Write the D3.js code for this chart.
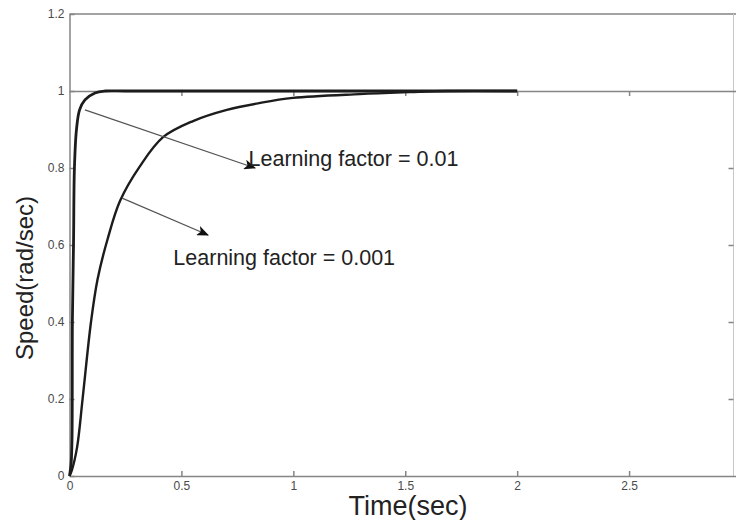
<!DOCTYPE html>
<html>
<head>
<meta charset="utf-8">
<script src="https://cdn.jsdelivr.net/npm/d3@7"></script>
<style>
  body { margin: 0; background: #fff; }
  svg { display: block; font-family: "Liberation Sans", Arial, sans-serif; }
  .tick text { fill: #4a4a4a; font-size: 12px; }
  .domain, .tick line { stroke: #858585; stroke-width: 1.5px; }
</style>
</head>
<body>
<svg id="chart" width="736" height="520"></svg>
<script>
// response for learning factor = 0.01
const timeA  = [0, 0.007, 0.011, 0.013, 0.018, 0.022, 0.031, 0.045, 0.069, 0.114, 0.159, 0.25, 0.5, 1, 1.5, 2]
const speedA = [0, 0.03, 0.09, 0.405, 0.605, 0.80, 0.899, 0.951, 0.977, 0.995, 1.0, 1, 1, 1, 1, 1]

// response for learning factor = 0.001
const timeB  = [0, 0.011, 0.034, 0.059, 0.096, 0.125, 0.17, 0.226, 0.315, 0.418, 0.552, 0.703, 0.851, 0.998, 1.297, 1.52, 1.686, 2]
const speedB = [0, 0.016, 0.075, 0.203, 0.40, 0.51, 0.615, 0.715, 0.805, 0.880, 0.922, 0.951, 0.969, 0.982, 0.992, 0.997, 1.0, 1.0]

const xTicks = [0, 0.5, 1, 1.5, 2, 2.5]
const yTicks = [0, 0.2, 0.4, 0.6, 0.8, 1, 1.2]

// annotations in data units: arrow start, arrow end, label anchor
const notes = [
  { text: "Learning factor = 0.01",  from: [0.069, 0.951], to: [0.829, 0.800], at: [0.800, 0.805] },
  { text: "Learning factor = 0.001", from: [0.235, 0.722], to: [0.619, 0.626], at: [0.464, 0.548] }
]

let svg = d3.select("#chart")
let W = 736

let x = d3.scaleLinear().domain([0, 3]).range([69.5, 741])
let y = d3.scaleLinear().domain([0, 1.2]).range([476, 14])

// frame lines (top border and right edge)
svg.append("line")
  .attr("x1", x(0)).attr("x2", W)
  .attr("y1", y(1.2)).attr("y2", y(1.2))
  .attr("stroke", "#858585").attr("stroke-width", 1.5)
svg.append("line")
  .attr("x1", W - 2.5).attr("x2", W - 2.5)
  .attr("y1", y(1.2)).attr("y2", y(0))
  .attr("stroke", "#c8c8c8").attr("stroke-width", 1)

// bottom axis, ticks pointing inward
svg.append("g")
  .attr("transform", `translate(0,${y(0)})`)
  .call(d3.axisBottom(x).tickValues(xTicks).tickSizeInner(-5).tickSizeOuter(0).tickPadding(5)
    .tickFormat(d => d3.format("")(d)))

// line at speed = 1 with ticks pointing down
svg.append("g")
  .attr("transform", `translate(0,${y(1)})`)
  .call(d3.axisTop(x).tickValues(xTicks.slice(1)).tickSizeInner(-5).tickSizeOuter(0).tickFormat(""))

// left axis
svg.append("g")
  .attr("transform", `translate(${x(0)},0)`)
  .call(d3.axisLeft(y).tickValues(yTicks).tickSizeInner(-5).tickSizeOuter(0).tickPadding(5)
    .tickFormat(d => d3.format("")(d)))

// right side ticks
svg.append("g")
  .attr("transform", `translate(${W - 2.5},0)`)
  .call(d3.axisRight(y).tickValues(yTicks.slice(1, 5)).tickSizeInner(-5).tickSizeOuter(0).tickFormat(""))
  .select(".domain").remove()

// the two responses
let line = d3.line()
  .x(d => x(d[0]))
  .y(d => y(d[1]))
  .curve(d3.curveCatmullRom.alpha(0.5))

svg.append("path")
  .datum(d3.zip(timeB, speedB))
  .attr("d", line)
  .attr("fill", "none")
  .attr("stroke", "#1c1c1c")
  .attr("stroke-width", 2.4)

svg.append("path")
  .datum(d3.zip(timeA, speedA))
  .attr("d", line)
  .attr("fill", "none")
  .attr("stroke", "#1c1c1c")
  .attr("stroke-width", 2.8)

// arrow head
svg.append("defs").append("marker")
  .attr("id", "head")
  .attr("viewBox", "0 0 12 10")
  .attr("refX", 11).attr("refY", 5)
  .attr("markerWidth", 12).attr("markerHeight", 10)
  .attr("markerUnits", "userSpaceOnUse")
  .attr("orient", "auto")
  .append("path")
  .attr("d", "M0,0 L12,5 L0,10 L3,5 Z")
  .attr("fill", "#111")

// annotation arrows and labels
svg.selectAll(".arrow")
  .data(notes)
  .enter()
  .append("line")
  .attr("class", "arrow")
  .attr("x1", d => x(d.from[0])).attr("y1", d => y(d.from[1]))
  .attr("x2", d => x(d.to[0])).attr("y2", d => y(d.to[1]))
  .attr("stroke", "#555")
  .attr("stroke-width", 1.3)
  .attr("marker-end", "url(#head)")

svg.selectAll(".note")
  .data(notes)
  .enter()
  .append("text")
  .attr("class", "note")
  .attr("x", d => x(d.at[0]))
  .attr("y", d => y(d.at[1]))
  .style("font-size", "21.5px")
  .style("fill", "#222")
  .text(d => d.text)

// axis titles
svg.append("text")
  .attr("x", 408)
  .attr("y", 515)
  .style("text-anchor", "middle")
  .style("font-size", "27px")
  .style("fill", "#222")
  .text("Time(sec)")

svg.append("text")
  .attr("transform", "translate(33,278) rotate(-90)")
  .style("text-anchor", "middle")
  .style("font-size", "24px")
  .style("fill", "#222")
  .text("Speed(rad/sec)")
</script>
</body>
</html>
